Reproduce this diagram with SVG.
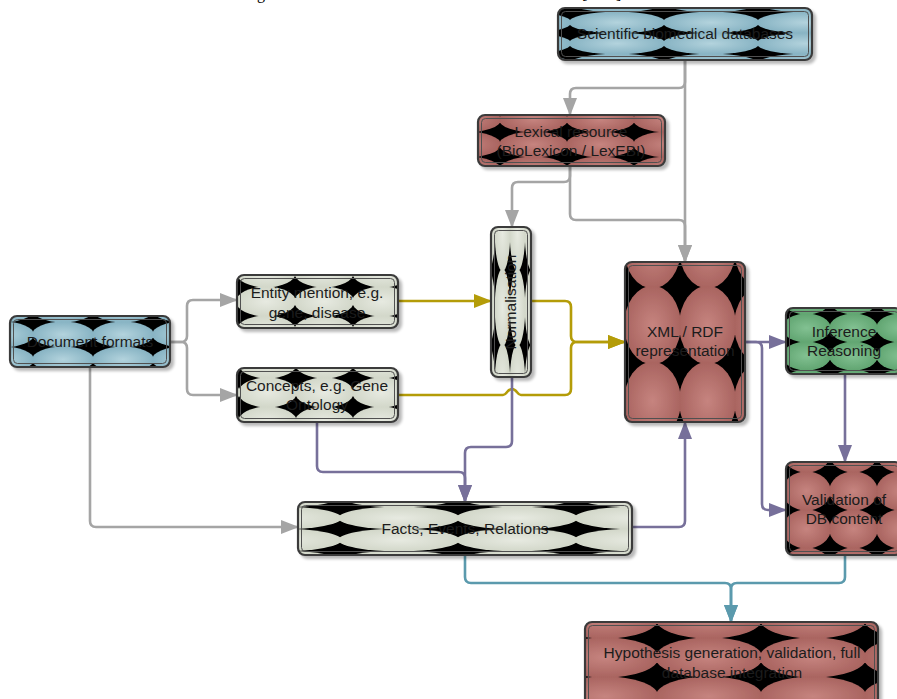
<svg xmlns="http://www.w3.org/2000/svg" width="897" height="699" viewBox="0 0 897 699">
<style>
.o{stroke:#3b3b3b;stroke-width:2.2}
.i{fill:none;stroke:#505050;stroke-width:1}
.t{font-family:"Liberation Sans",Arial,sans-serif;font-size:15.5px;fill:#1c1c1c;text-anchor:middle}
.cap{font-family:"Liberation Serif","Times New Roman",serif;font-size:16px;fill:#000}
.c{fill:none;stroke-width:2.6;stroke-linejoin:round}
.gray{stroke:#a5a5a5}
.gold{stroke:#b49c08}
.purple{stroke:#77709a}
.teal{stroke:#5b9aad}
</style>
<defs>
<radialGradient id="gBlue"><stop offset="0" stop-color="#b3d3dd"/><stop offset="1" stop-color="#87b3c3"/></radialGradient>
<radialGradient id="gRed"><stop offset="0" stop-color="#c6847f"/><stop offset="1" stop-color="#a96460"/></radialGradient>
<radialGradient id="gGray"><stop offset="0" stop-color="#e7eae1"/><stop offset="1" stop-color="#d2d7c9"/></radialGradient>
<radialGradient id="gGreen"><stop offset="0" stop-color="#82c192"/><stop offset="1" stop-color="#61a571"/></radialGradient>
<g id="eBlue" fill="url(#gBlue)"><rect width="2" height="2" fill="#000"/><ellipse cx="1" cy="-1" rx="1.03" ry="1.03"/><ellipse cx="1" cy="3" rx="1.03" ry="1.03"/><ellipse cx="-1" cy="1" rx="1.03" ry="1.03"/><ellipse cx="3" cy="1" rx="1.03" ry="1.03"/><ellipse cx="1" cy="1" rx="1.03" ry="1.03"/></g>
<g id="eRed" fill="url(#gRed)"><rect width="2" height="2" fill="#000"/><ellipse cx="1" cy="-1" rx="1.03" ry="1.03"/><ellipse cx="1" cy="3" rx="1.03" ry="1.03"/><ellipse cx="-1" cy="1" rx="1.03" ry="1.03"/><ellipse cx="3" cy="1" rx="1.03" ry="1.03"/><ellipse cx="1" cy="1" rx="1.03" ry="1.03"/></g>
<g id="eGray" fill="url(#gGray)"><rect width="2" height="2" fill="#000"/><ellipse cx="1" cy="-1" rx="1.03" ry="1.03"/><ellipse cx="1" cy="3" rx="1.03" ry="1.03"/><ellipse cx="-1" cy="1" rx="1.03" ry="1.03"/><ellipse cx="3" cy="1" rx="1.03" ry="1.03"/><ellipse cx="1" cy="1" rx="1.03" ry="1.03"/></g>
<g id="eGreen" fill="url(#gGreen)"><rect width="2" height="2" fill="#000"/><ellipse cx="1" cy="-1" rx="1.03" ry="1.03"/><ellipse cx="1" cy="3" rx="1.03" ry="1.03"/><ellipse cx="-1" cy="1" rx="1.03" ry="1.03"/><ellipse cx="3" cy="1" rx="1.03" ry="1.03"/><ellipse cx="1" cy="1" rx="1.03" ry="1.03"/></g>
<pattern id="pSci" patternUnits="userSpaceOnUse" x="570" y="12" width="94" height="21" viewBox="0 0 2 2" preserveAspectRatio="none"><use href="#eBlue"/></pattern>
<pattern id="pLex" patternUnits="userSpaceOnUse" x="500" y="132" width="67" height="25" viewBox="0 0 2 2" preserveAspectRatio="none"><use href="#eRed"/></pattern>
<pattern id="pNorm" patternUnits="userSpaceOnUse" x="495" y="270" width="15" height="75" viewBox="0 0 2 2" preserveAspectRatio="none"><use href="#eGray"/></pattern>
<pattern id="pEnt" patternUnits="userSpaceOnUse" x="295" y="287" width="58" height="29" viewBox="0 0 2 2" preserveAspectRatio="none"><use href="#eGray"/></pattern>
<pattern id="pCon" patternUnits="userSpaceOnUse" x="296" y="378" width="57" height="29" viewBox="0 0 2 2" preserveAspectRatio="none"><use href="#eGray"/></pattern>
<pattern id="pDoc" patternUnits="userSpaceOnUse" x="33" y="322" width="60" height="25" viewBox="0 0 2 2" preserveAspectRatio="none"><use href="#eBlue"/></pattern>
<pattern id="pXml" patternUnits="userSpaceOnUse" x="625" y="287" width="55" height="76" viewBox="0 0 2 2" preserveAspectRatio="none"><use href="#eRed"/></pattern>
<pattern id="pInf" patternUnits="userSpaceOnUse" x="830" y="342" width="47" height="28" viewBox="0 0 2 2" preserveAspectRatio="none"><use href="#eGreen"/></pattern>
<pattern id="pVal" patternUnits="userSpaceOnUse" x="830" y="510" width="47" height="38" viewBox="0 0 2 2" preserveAspectRatio="none"><use href="#eRed"/></pattern>
<pattern id="pFac" patternUnits="userSpaceOnUse" x="340" y="529" width="118" height="22" viewBox="0 0 2 2" preserveAspectRatio="none"><use href="#eGray"/></pattern>
<pattern id="pHyp" patternUnits="userSpaceOnUse" x="657" y="638" width="104" height="39" viewBox="0 0 2 2" preserveAspectRatio="none"><use href="#eRed"/></pattern>
<filter id="sh" x="-10%" y="-10%" width="130%" height="140%"><feGaussianBlur in="SourceAlpha" stdDeviation="1.8"/><feOffset dx="3" dy="3"/><feComponentTransfer><feFuncA type="linear" slope="0.28"/></feComponentTransfer><feMerge><feMergeNode/><feMergeNode in="SourceGraphic"/></feMerge></filter>
<marker id="aGray" viewBox="0 0 18 14" markerWidth="18" markerHeight="14" refX="17" refY="7" orient="auto" markerUnits="userSpaceOnUse"><path d="M0,0 L18,7 L0,14 Z" fill="#a5a5a5"/></marker>
<marker id="aGold" viewBox="0 0 18 14" markerWidth="18" markerHeight="14" refX="17" refY="7" orient="auto" markerUnits="userSpaceOnUse"><path d="M0,0 L18,7 L0,14 Z" fill="#b49c08"/></marker>
<marker id="aPurple" viewBox="0 0 18 14" markerWidth="18" markerHeight="14" refX="17" refY="7" orient="auto" markerUnits="userSpaceOnUse"><path d="M0,0 L18,7 L0,14 Z" fill="#77709a"/></marker>
<marker id="aTeal" viewBox="0 0 18 14" markerWidth="18" markerHeight="14" refX="17" refY="7" orient="auto" markerUnits="userSpaceOnUse"><path d="M0,0 L18,7 L0,14 Z" fill="#5b9aad"/></marker>
</defs>
<rect width="897" height="699" fill="#fff"/>
<text class="cap" x="257" y="-1">g</text>
<text class="cap" x="582" y="-1">[</text>
<text class="cap" x="616" y="-1">]</text>
<g id="connectors">
<path class="c gray" d="M685,60 V82 Q685,88 679,88 H576 Q570,88 570,94 V115" marker-end="url(#aGray)"/>
<path class="c gray" d="M685,60 V262" marker-end="url(#aGray)"/>
<path class="c gray" d="M570,166 V176 Q570,182 564,182 H518 Q512,182 512,188 V227" marker-end="url(#aGray)"/>
<path class="c gray" d="M570,166 V214 Q570,220 576,220 H679 Q685,220 685,226 V262" marker-end="url(#aGray)"/>
<path class="c gray" d="M170,342 H181 Q187,342 187,336 V306 Q187,300 193,300 H237" marker-end="url(#aGray)"/>
<path class="c gray" d="M170,342 H181 Q187,342 187,348 V389 Q187,395 193,395 H237" marker-end="url(#aGray)"/>
<path class="c gray" d="M90,367 V521 Q90,527 96,527 H298" marker-end="url(#aGray)"/>
<path class="c gold" d="M398,301 H491" marker-end="url(#aGold)"/>
<path class="c gold" d="M531,301 H565 Q571,301 571,307 V336 Q571,342 577,342 H625" marker-end="url(#aGold)"/>
<path class="c gold" d="M398,395 H503 C507,395 507,389 512,389 C517,389 517,395 521,395 H565 Q571,395 571,389 V348 Q571,342 577,342 H625" marker-end="url(#aGold)"/>
<path class="c purple" d="M512,377 V441 Q512,447 506,447 H471 Q465,447 465,453 V502" marker-end="url(#aPurple)"/>
<path class="c purple" d="M317,422 V466 Q317,472 323,472 H459 Q465,472 465,478 V502" marker-end="url(#aPurple)"/>
<path class="c purple" d="M632,527 H679 Q685,527 685,521 V422" marker-end="url(#aPurple)"/>
<path class="c purple" d="M745,342 H786" marker-end="url(#aPurple)"/>
<path class="c purple" d="M745,342 H756 Q762,342 762,348 V504 Q762,510 768,510 H786" marker-end="url(#aPurple)"/>
<path class="c purple" d="M845,374 V462" marker-end="url(#aPurple)"/>
<path class="c teal" d="M465,555 V577 Q465,583 471,583 H725 Q731,583 731,589 V622" marker-end="url(#aTeal)"/>
<path class="c teal" d="M845,555 V577 Q845,583 839,583 H737 Q731,583 731,589 V622" marker-end="url(#aTeal)"/>
</g>
<g id="n-sci"><rect class="o" x="558" y="8" width="254" height="52" rx="7" fill="url(#pSci)" filter="url(#sh)"/><rect class="i" x="561.5" y="11.5" width="247" height="45" rx="4"/><text class="t" x="685" y="39">Scientific biomedical databases</text></g>
<g id="n-lex"><rect class="o" x="478" y="115" width="187" height="51" rx="7" fill="url(#pLex)" filter="url(#sh)"/><rect class="i" x="481.5" y="118.5" width="180" height="44" rx="4"/><text class="t" x="571" y="137">Lexical resource</text><text class="t" x="571" y="156">(BioLexicon / LexEBI)</text></g>
<g id="n-norm"><rect class="o" x="491" y="227" width="40" height="150" rx="7" fill="url(#pNorm)" filter="url(#sh)"/><rect class="i" x="494.5" y="230.5" width="33" height="143" rx="4"/><text class="t" transform="translate(516,302) rotate(-90)" x="0" y="0">Normalisation</text></g>
<g id="n-ent"><rect class="o" x="237" y="275" width="161" height="53" rx="7" fill="url(#pEnt)" filter="url(#sh)"/><rect class="i" x="240.5" y="278.5" width="154" height="46" rx="4"/><text class="t" x="317" y="298">Entity mention, e.g.</text><text class="t" x="317" y="318">gene, disease</text></g>
<g id="n-con"><rect class="o" x="237" y="368" width="161" height="54" rx="7" fill="url(#pCon)" filter="url(#sh)"/><rect class="i" x="240.5" y="371.5" width="154" height="47" rx="4"/><text class="t" x="317" y="391">Concepts, e.g. Gene</text><text class="t" x="317" y="410">Ontology</text></g>
<g id="n-doc"><rect class="o" x="10" y="316" width="160" height="51" rx="7" fill="url(#pDoc)" filter="url(#sh)"/><rect class="i" x="13.5" y="319.5" width="153" height="44" rx="4"/><text class="t" x="90" y="347">Document formats</text></g>
<g id="n-xml"><rect class="o" x="625" y="262" width="120" height="160" rx="7" fill="url(#pXml)" filter="url(#sh)"/><rect class="i" x="628.5" y="265.5" width="113" height="153" rx="4"/><text class="t" x="685" y="337">XML / RDF</text><text class="t" x="685" y="356">representation</text></g>
<g id="n-inf"><rect class="o" x="786" y="308" width="116" height="66" rx="7" fill="url(#pInf)" filter="url(#sh)"/><rect class="i" x="789.5" y="311.5" width="109" height="59" rx="4"/><text class="t" x="844" y="337">Inference</text><text class="t" x="844" y="356">Reasoning</text></g>
<g id="n-val"><rect class="o" x="786" y="462" width="116" height="93" rx="7" fill="url(#pVal)" filter="url(#sh)"/><rect class="i" x="789.5" y="465.5" width="109" height="86" rx="4"/><text class="t" x="844" y="505">Validation of</text><text class="t" x="844" y="524">DB content</text></g>
<g id="n-fac"><rect class="o" x="298" y="502" width="334" height="53" rx="7" fill="url(#pFac)" filter="url(#sh)"/><rect class="i" x="301.5" y="505.5" width="327" height="46" rx="4"/><text class="t" x="465" y="534">Facts, Events, Relations</text></g>
<g id="n-hyp"><rect class="o" x="585" y="622" width="293" height="90" rx="7" fill="url(#pHyp)" filter="url(#sh)"/><rect class="i" x="588.5" y="625.5" width="286" height="83" rx="4"/><text class="t" x="732" y="658">Hypothesis generation, validation, full</text><text class="t" x="732" y="678">database integration</text></g>
</svg>
